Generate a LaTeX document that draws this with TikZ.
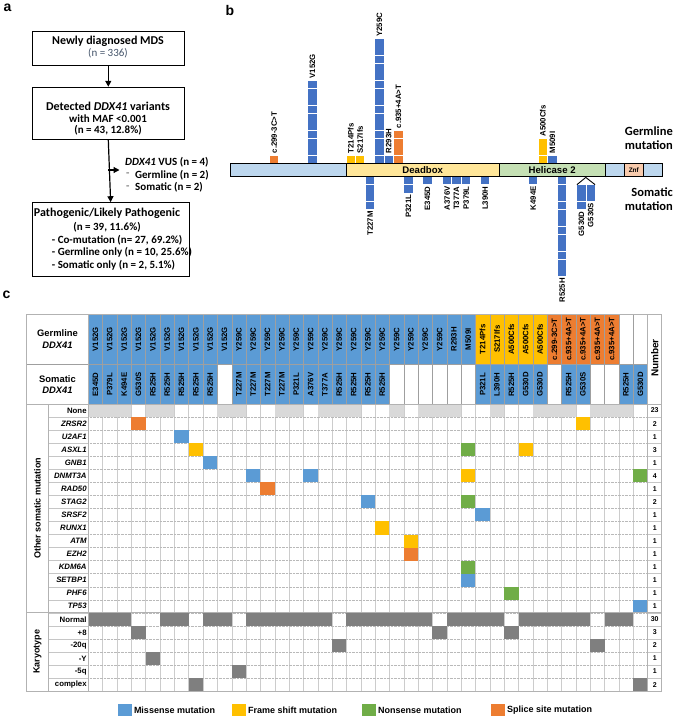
\documentclass[tikz,border=0pt]{standalone}
\usepackage{fontspec}
\setmainfont{Liberation Sans}
\newfontfamily\calib{Carlito}
\usetikzlibrary{arrows.meta}
\definecolor{mblue}{HTML}{5B9BD5}
\definecolor{bblue}{HTML}{4472C4}
\definecolor{myel}{HTML}{FFC000}
\definecolor{mor}{HTML}{ED7D31}
\definecolor{mgr}{HTML}{70AD47}
\definecolor{ngray}{HTML}{D9D9D9}
\definecolor{kgray}{HTML}{7F7F7F}
\definecolor{lblue}{HTML}{BDD7EE}
\definecolor{dyel}{HTML}{FFE699}
\definecolor{dgrn}{HTML}{C5E0B4}
\definecolor{znfc}{HTML}{F8CBAD}
\definecolor{nblue}{HTML}{44546A}
\newcommand\GermCell[3]{%
 \pgfmathsetmacro\xl{88.3+14.34*(#1-1)}%
 \fill[#3] (\xl,314.7) rectangle ++(14.34,49.3);%
 \node[hlab] (g#1) at ({\xl+7.17},339.3) {#2};}
\newcommand\SomCell[2]{%
 \pgfmathsetmacro\xl{88.3+14.34*(#1-1)}%
 \fill[mblue] (\xl,364) rectangle ++(14.34,40);%
 \node[hlab] (s#1) at ({\xl+7.17},384.5) {#2};}
\newcommand\DatCell[3]{%
 \pgfmathsetmacro\xl{88.3+14.34*(#2-1)}%
 \pgfmathsetmacro\yt{404+13.05*(#1-1)}%
 \fill[#3] (\xl,\yt) rectangle ++(14.34,13.05);}
\newcommand\UpStack[5]{%
 \foreach \k in {1,...,#2} {\fill[#3] (#1,{163.3-8.33*\k+0.8}) rectangle ++(8.2,7.53);}%
 \node[blab,anchor=west] (#5) at ({#1+4.1},{163.3-8.33*#2-1.5}) {#4};}
\newcommand\DnStack[5]{%
 \foreach \k in {1,...,#3} {\fill[bblue] (#1,{#2+8.33*(\k-1)}) rectangle ++(8.2,7.53);}%
 \node[blab,anchor=east] (#5) at ({#1+4.1},{#2+8.33*#3+1.2}) {#4};}
\begin{document}
\begin{tikzpicture}[x=1pt,y=-1pt,
  every node/.style={inner sep=0pt},
  abox/.style={draw=black,line width=1pt},
  arr/.style={-{Triangle[length=6pt,width=6pt]},line width=1.2pt},
  atitle/.style={font=\calib\bfseries\fontsize{12}{14}\selectfont},
  atext/.style={font=\calib\bfseries\fontsize{11}{13}\selectfont},
  plab/.style={font=\bfseries\fontsize{14}{16}\selectfont},
  blab/.style={rotate=90,font=\bfseries\fontsize{7.8}{8}\selectfont},
  hlab/.style={rotate=90,font=\bfseries\fontsize{7.8}{8}\selectfont},
  rlab/.style={anchor=east,font=\bfseries\fontsize{7.8}{8}\selectfont},
  numlab/.style={font=\bfseries\fontsize{7}{8}\selectfont},
  barline/.style={draw=black,line width=0.9pt},
  gridv/.style={gray!40,line width=0.4pt},
  gridh/.style={gray!55,line width=0.4pt,densely dotted},
  hline/.style={gray!75,line width=0.4pt},
  bord/.style={gray!60,line width=0.7pt},
  legt/.style={anchor=west,font=\bfseries\fontsize{9}{10}\selectfont}]
\useasboundingbox (0,0) rectangle (675,716);
% ---------------- panel a
\node[plab] (la) at (7.5,8) {a};
\node[abox,minimum width=152pt,minimum height=33.3pt] (a1) at (108.3,48.35) {};
\node[abox,minimum width=152pt,minimum height=52pt] (a2) at (108.3,113.3) {};
\node[abox,minimum width=156.7pt,minimum height=74pt] (a3) at (110.65,239.7) {};
\node[atitle] (t11) at (108,41.7) {Newly diagnosed MDS};
\node[font=\calib\fontsize{11}{13}\selectfont,text=nblue] (t12) at (108,53.3) {(n = 336)};
\node[atitle] (t21) at (108,106) {Detected \textit{DDX41} variants};
\node[atext] (t22) at (108,119) {with MAF <0.001};
\node[atext] (t23) at (108,130.7) {(n = 43, 12.8\%)};
\node[atitle] (t31) at (107,213.3) {Pathogenic/Likely Pathogenic};
\node[atext] (t32) at (107,227.7) {(n = 39, 11.6\%)};
\node[atext,anchor=west] (t33) at (51.7,240) {- Co-mutation (n= 27, 69.2\%)};
\node[atext,anchor=west] (t34) at (51.7,252.7) {- Germline only (n = 10, 25.6\%)};
\node[atext,anchor=west] (t35) at (51.7,265) {- Somatic only (n = 2, 5.1\%)};
\draw[arr] (a1.south) -- (a2.north);
\draw[arr] (a2.south) -- (a3.north);
\coordinate (br) at (108.3,170);
\coordinate (brend) at (119.5,170);
\draw[arr] (br) -- (brend);
\node[atext,anchor=west] (v1) at (125,162.3) {\textit{DDX41} VUS (n = 4)};
\node[atext,anchor=west,text=gray] (v2d) at (126,175) {-};
\node[atext,anchor=west] (v2) at (135,175) {Germline (n = 2)};
\node[atext,anchor=west,text=gray] (v3d) at (126,187.7) {-};
\node[atext,anchor=west] (v3) at (135,187.7) {Somatic (n = 2)};
% ---------------- panel b
\node[plab] (lb) at (230,10) {b};
\UpStack{270}{1}{mor}{c.299-3C>T}{m1}
\UpStack{308.3}{10}{bblue}{V152G}{m2}
\UpStack{346.7}{1}{myel}{T214Pfs}{m3}
\UpStack{356}{1}{myel}{S217Ifs}{m4}
\UpStack{375.3}{15}{bblue}{Y259C}{m5}
\UpStack{384.7}{1}{bblue}{R293H}{m6}
\UpStack{394.3}{4}{mor}{c.935+4A>T}{m7}
\UpStack{538.7}{3}{myel}{A500Cfs}{m8}
\UpStack{548.3}{1}{bblue}{M509I}{m9}
\DnStack{366}{176.7}{4}{T227M}{n1}
\DnStack{404.3}{176.7}{2}{P321L}{n2}
\DnStack{423.3}{176.7}{1}{E345D}{n3}
\DnStack{443}{176.7}{1}{A376V}{n4}
\DnStack{452.3}{176.7}{1}{T377A}{n5}
\DnStack{462}{176.7}{1}{P379L}{n6}
\DnStack{481}{176.7}{1}{L390H}{n7}
\DnStack{529}{176.7}{1}{K494E}{n8}
\DnStack{558}{176.7}{12}{R525H}{n9}
\DnStack{577.3}{185}{3}{G530D}{n10}
\DnStack{586.7}{185}{2}{G530S}{n11}
\draw[line width=0.9pt] (577,184.6) -- (585.8,177.4) -- (595,184.6);
\draw[barline,fill=lblue] (230.7,163.3) rectangle (346,176.7);
\draw[barline,fill=dyel] (346,163.3) rectangle (499.3,176.7);
\draw[barline,fill=dgrn] (499.3,163.3) rectangle (605,176.7);
\draw[barline,fill=lblue] (605,163.3) rectangle (624.3,176.7);
\draw[barline,fill=znfc] (624.3,163.3) rectangle (643.3,176.7);
\draw[barline,fill=lblue] (643.3,163.3) rectangle (662.7,176.7);
\node[font=\bfseries\fontsize{9.6}{10}\selectfont] (dbx) at (422.7,170.2) {Deadbox};
\node[font=\bfseries\fontsize{9.6}{10}\selectfont] (hel) at (552.2,170.2) {Helicase 2};
\node[font=\bfseries\fontsize{6.5}{7}\selectfont] (znf) at (633.8,170.2) {Znf};
\node[font=\calib\bfseries\fontsize{12.5}{13.5}\selectfont,align=right,anchor=east] (gm) at (673,138.3) {Germline\\mutation};
\node[font=\calib\bfseries\fontsize{12.5}{13.5}\selectfont,align=right,anchor=east] (sm) at (673,199.3) {Somatic\\mutation};
% ---------------- panel c
\node[plab] (lc) at (6.5,295) {c};
% grid of data region
\foreach \k in {0,...,39} {\pgfmathsetmacro\xv{88.3+14.34*\k}\draw[gridv] (\xv,404) -- (\xv,690.9);}
\foreach \r in {1,...,21} {\pgfmathsetmacro\yh{404+13.05*\r}
  \draw[gridh] (88.3,\yh) -- (647.7,\yh);
  \draw[gray!45,line width=0.4pt] (48,\yh) -- (88.3,\yh);
  \draw[gray!45,line width=0.4pt] (647.7,\yh) -- (661.7,\yh);}
% None row
\foreach \ci in {1,2,3,5,6,10,11,14,15,17,18,19,22,24,25,26,29,32,33,34,36,37,38} {\DatCell{1}{\ci}{ngray}}
% other somatic mutations
\DatCell{2}{4}{mor} \DatCell{2}{35}{myel}
\DatCell{3}{7}{mblue}
\DatCell{4}{8}{myel} \DatCell{4}{27}{mgr} \DatCell{4}{31}{myel}
\DatCell{5}{9}{mblue}
\DatCell{6}{12}{mblue} \DatCell{6}{16}{mblue} \DatCell{6}{27}{myel} \DatCell{6}{39}{mgr}
\DatCell{7}{13}{mor}
\DatCell{8}{20}{mblue} \DatCell{8}{27}{mgr}
\DatCell{9}{28}{mblue}
\DatCell{10}{21}{myel}
\DatCell{11}{23}{myel}
\DatCell{12}{23}{mor}
\DatCell{13}{27}{mgr}
\DatCell{14}{27}{mblue}
\DatCell{15}{30}{mgr}
\DatCell{16}{39}{mblue}
% karyotype
\foreach \ci in {1,2,3,6,7,9,10,12,13,14,15,16,17,19,20,21,22,23,24,26,27,28,29,31,32,33,34,35,37,38} {\DatCell{17}{\ci}{kgray}}
\DatCell{18}{4}{kgray} \DatCell{18}{25}{kgray} \DatCell{18}{30}{kgray}
\DatCell{19}{18}{kgray} \DatCell{19}{36}{kgray}
\DatCell{20}{5}{kgray}
\DatCell{21}{11}{kgray}
\DatCell{22}{8}{kgray} \DatCell{22}{39}{kgray}
% header germline
\foreach \ci in {1,...,10} {\GermCell{\ci}{V152G}{mblue}}
\foreach \ci in {11,...,25} {\GermCell{\ci}{Y259C}{mblue}}
\GermCell{26}{R293H}{mblue}
\GermCell{27}{M509I}{mblue}
\GermCell{28}{T214Pfs}{myel}
\GermCell{29}{S217Ifs}{myel}
\foreach \ci in {30,31,32} {\GermCell{\ci}{A500Cfs}{myel}}
\GermCell{33}{c.299-3C>T}{mor}
\foreach \ci in {34,...,37} {\GermCell{\ci}{c.935+4A>T}{mor}}
% header somatic
\SomCell{1}{E345D} \SomCell{2}{P379L} \SomCell{3}{K494E} \SomCell{4}{G530S}
\foreach \ci in {5,...,9} {\SomCell{\ci}{R525H}}
\foreach \ci in {11,...,14} {\SomCell{\ci}{T227M}}
\SomCell{15}{P321L} \SomCell{16}{A376V} \SomCell{17}{T377A}
\foreach \ci in {18,...,21} {\SomCell{\ci}{R525H}}
\SomCell{28}{P321L} \SomCell{29}{L390H} \SomCell{30}{R525H} \SomCell{31}{G530D} \SomCell{32}{G530D}
\SomCell{34}{R525H} \SomCell{35}{G530S} \SomCell{38}{R525H} \SomCell{39}{G530D}
% header lines
\foreach \k in {1,...,38} {\pgfmathsetmacro\xv{88.3+14.34*\k}\draw[hline] (\xv,314.7) -- (\xv,404);}
\draw[hline] (26.7,364) -- (647.7,364);
% borders
\draw[bord] (26.7,314.7) rectangle (661.7,690.9);
\draw[bord] (88.3,314.7) -- (88.3,690.9);
\draw[bord] (26.7,404) -- (661.7,404);
\draw[bord] (48,404) -- (48,690.9);
\draw[bord] (26.7,612.8) -- (661.7,612.8);
\draw[bord] (647.7,314.7) -- (647.7,690.9);
% header labels
\node[align=center,font=\bfseries\fontsize{9.4}{11.7}\selectfont] (hg) at (57.5,339) {Germline\\\textit{DDX41}};
\node[align=center,font=\bfseries\fontsize{9.4}{11.7}\selectfont] (hs) at (57.5,384.5) {Somatic\\\textit{DDX41}};
\node[rotate=90,font=\bfseries\fontsize{10}{11}\selectfont] (hn) at (654.7,358) {Number};
\node[rotate=90,font=\bfseries\fontsize{9}{10}\selectfont] (ho) at (37.5,508.4) {Other somatic mutation};
\node[rotate=90,font=\bfseries\fontsize{9}{10}\selectfont] (hk) at (37.5,651.9) {Karyotype};
% row labels
\node[rlab] (r1) at (86.8,410.5) {None};
\foreach \r/\t in {2/ZRSR2,3/U2AF1,4/ASXL1,5/GNB1,6/DNMT3A,7/RAD50,8/STAG2,9/SRSF2,10/RUNX1,11/ATM,12/EZH2,13/KDM6A,14/SETBP1,15/PHF6,16/TP53}
  {\pgfmathsetmacro\yc{404+13.05*(\r-0.5)}\node[rlab,font=\bfseries\itshape\fontsize{7.8}{8}\selectfont] (r\r) at (86.8,\yc) {\t};}
\foreach \r/\t in {17/Normal,18/+8,19/-20q,20/-Y,21/-5q,22/complex}
  {\pgfmathsetmacro\yc{404+13.05*(\r-0.5)}\node[rlab] (r\r) at (86.8,\yc) {\t};}
\foreach \r/\n in {1/23,2/2,3/1,4/3,5/1,6/4,7/1,8/2,9/1,10/1,11/1,12/1,13/1,14/1,15/1,16/1,17/30,18/3,19/2,20/1,21/1,22/2}
  {\pgfmathsetmacro\yc{404+13.05*(\r-0.5)}\node[numlab] (c\r) at (654.7,\yc) {\n};}
% legend
\fill[mblue] (117.7,704) rectangle (131.7,716);
\node[legt] (l1) at (133.8,710.3) {Missense mutation};
\fill[myel] (232,704) rectangle (246,716);
\node[legt] (l2) at (248,710.3) {Frame shift mutation};
\fill[mgr] (361.7,704) rectangle (375.7,716);
\node[legt] (l3) at (378,710.3) {Nonsense mutation};
\fill[mor] (491,704) rectangle (505,716);
\node[legt] (l4) at (507,710.3) {Splice site mutation};
\end{tikzpicture}
\end{document}
